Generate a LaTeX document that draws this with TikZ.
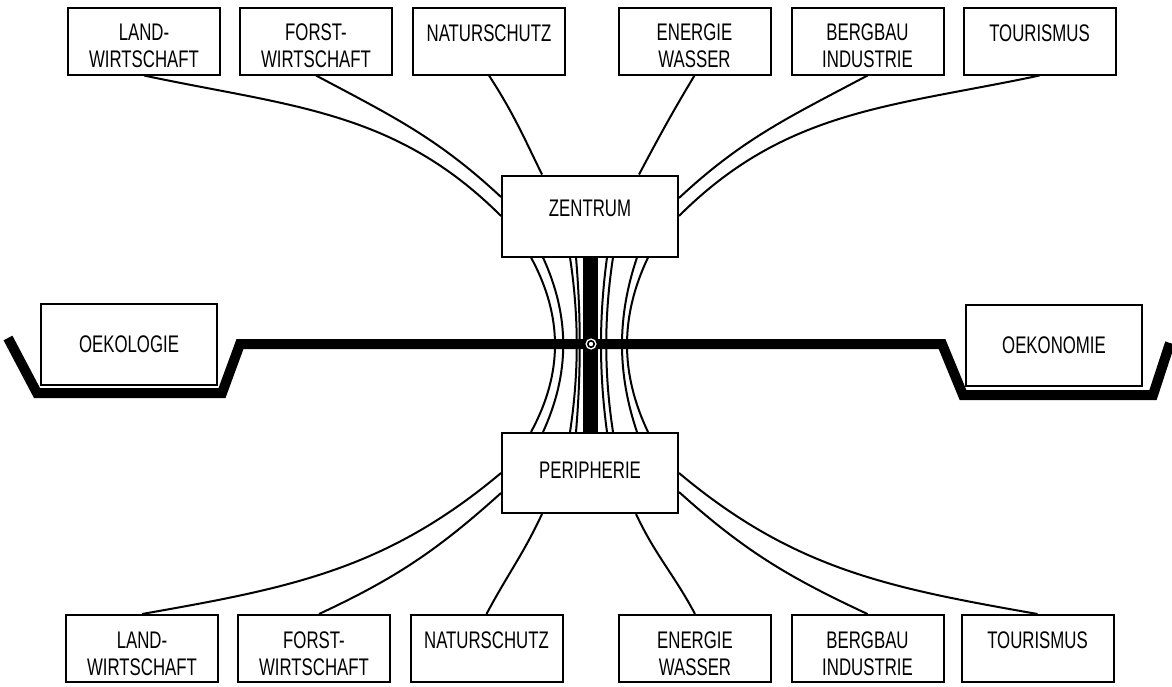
\documentclass[tikz,border=0pt]{standalone}
\usepackage{fontspec}
\setmainfont{Liberation Sans}[FakeStretch=0.7]
\usetikzlibrary{calc}

\newcommand{\twolines}[2]{\rule{0pt}{13.6pt}#1\\#2\mbox{}}

\tikzset{
  sectorbox/.style={draw, line width=1pt, minimum width=76pt, minimum height=33.5pt, inner sep=0pt, align=center, font=\fontsize{12}{13.5}\selectfont},
  polebox/.style={draw, line width=1pt, minimum width=88pt, minimum height=40.5pt, inner sep=0pt, font=\fontsize{12}{13.5}\selectfont},
  panbox/.style={draw, line width=1pt, minimum width=88pt, minimum height=40.5pt, inner sep=0pt, font=\fontsize{12}{13.5}\selectfont},
  wire/.style={line width=1pt},
  beam/.style={line width=5pt},
  bar/.style={line width=7.5pt},
}

\begin{document}
\begin{tikzpicture}[x=0.5pt, y=0.5pt]
\useasboundingbox (0,0) rectangle (1172,-686);

% the balance: beam and two pans
\coordinate (pivot) at (591,-344);
\draw[beam] (8,-338) -- (37,-393) -- (222,-393) -- (240,-344) -- (pivot) -- (942,-344) -- (963,-395) -- (1153,-395) -- (1170,-343);

% the weights in the pans
\node[panbox] (eco) at (129,-344.5) {OEKOLOGIE};
\node[panbox] (econ) at (1054,-345) {OEKONOMIE};

% centre and periphery
\node[polebox] (zen) at (590,-216) {ZENTRUM\rule[-8pt]{0pt}{8pt}};
\node[polebox, minimum height=40pt] (peri) at (590,-473) {PERIPHERIE\rule[-3pt]{0pt}{3pt}};

% upper row of sectors
\node[sectorbox] (top1) at (144,-41) {\twolines{LAND-}{WIRTSCHAFT}};
\node[sectorbox] (top2) at (316,-41) {\twolines{FORST-}{WIRTSCHAFT}};
\node[sectorbox] (top3) at (489,-41) {\twolines{NATURSCHUTZ}{}};
\node[sectorbox] (top4) at (694.5,-41) {\twolines{ENERGIE}{WASSER}};
\node[sectorbox] (top5) at (867.5,-41) {\twolines{BERGBAU}{INDUSTRIE}};
\node[sectorbox] (top6) at (1039.5,-41) {\twolines{TOURISMUS}{}};

% lower row of sectors
\node[sectorbox] (bot1) at (142,-648.5) {\twolines{LAND-}{WIRTSCHAFT}};
\node[sectorbox] (bot2) at (314,-648.5) {\twolines{FORST-}{WIRTSCHAFT}};
\node[sectorbox] (bot3) at (486.5,-648.5) {\twolines{NATURSCHUTZ}{}};
\node[sectorbox] (bot4) at (695,-648.5) {\twolines{ENERGIE}{WASSER}};
\node[sectorbox] (bot5) at (867.5,-648.5) {\twolines{BERGBAU}{INDUSTRIE}};
\node[sectorbox] (bot6) at (1037.5,-648.5) {\twolines{TOURISMUS}{}};

% upper sectors into the centre
\draw[wire] (top1.south) to[out=-12, in=135] (zen.west);
\draw[wire] (top2.south) to[out=-28, in=137] ($(zen.west)+(0,19)$);
\draw[wire] (top3.south) to[out=-57, in=116] ($(zen.north)+(-48,0)$);
\draw[wire] (top4.south) to[out=-121, in=62] ($(zen.north)+(49,0)$);
\draw[wire] (top5.south) to[out=-152, in=43] ($(zen.east)+(0,18)$);
\draw[wire] (top6.south) to[out=-168, in=45] (zen.east);

% lower sectors into the periphery
\draw[wire] (bot1.north) to[out=10, in=-140] (peri.west);
\draw[wire] ($(bot2.north)+(5,0)$) to[out=25, in=-138] ($(peri.west)+(0,-20)$);
\draw[wire] (bot3.north) to[out=62, in=-115] ($(peri.south)+(-48,0)$);
\draw[wire] (bot4.north) to[out=118, in=-65] ($(peri.south)+(46,0)$);
\draw[wire] (bot5.north) to[out=155, in=-42] ($(peri.east)+(0,-19)$);
\draw[wire] (bot6.north) to[out=170, in=-40] (peri.east);

% strands between centre and periphery
\foreach \o/\d in {-59/32, -47/27, -20/9, -14/5, 17/-8, 23/-9, 47/-20, 58/-28}
  \draw[wire] ($(zen.south)+(\o,0)$) .. controls ($(zen.south)+(\o+\d,-59)$) and ($(peri.north)+(\o+\d,59)$) .. ($(peri.north)+(\o,0)$);

% upright of the balance
\draw[bar] (zen.south) -- (peri.north);
\fill[white] (pivot) circle (2.8pt);
\draw[line width=0.8pt] (pivot) circle (1.6pt);

\end{tikzpicture}
\end{document}
